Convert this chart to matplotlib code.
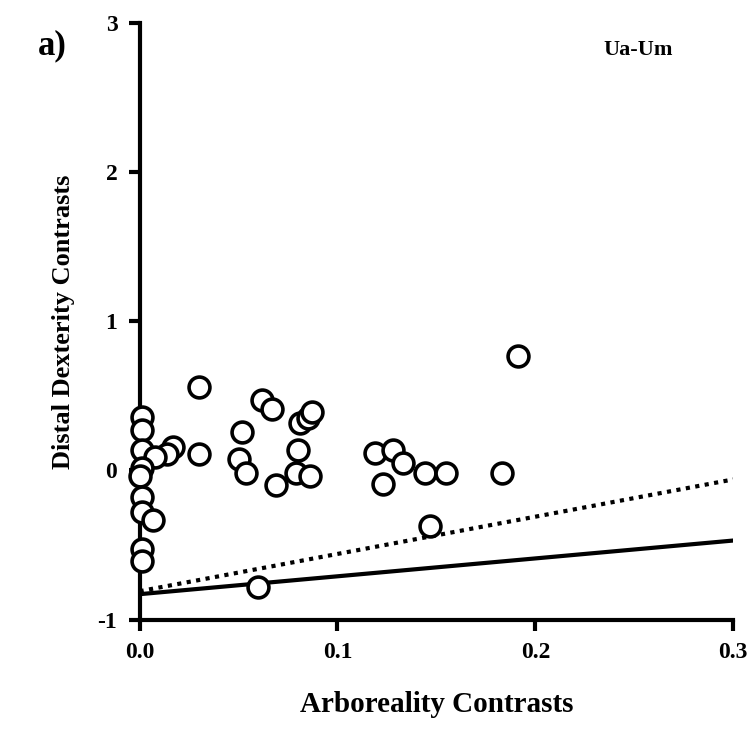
import matplotlib.pyplot as plt

# arboreality contrasts (x) and distal dexterity contrasts (y)
arb = [0.191, 0.030, 0.001, 0.001, 0.001, 0.017, 0.014, 0.030, 0.008,
       0.001, 0.000, 0.001, 0.001, 0.007, 0.001, 0.001, 0.060,
       0.052, 0.050, 0.054, 0.062, 0.067, 0.069, 0.081, 0.085,
       0.087, 0.080, 0.079, 0.086, 0.119, 0.128, 0.133, 0.123,
       0.144, 0.155, 0.183, 0.147]
dex = [0.77, 0.56, 0.36, 0.27, 0.14, 0.16, 0.11, 0.11, 0.09,
       0.02, -0.04, -0.18, -0.28, -0.33, -0.53, -0.61, -0.78,
       0.26, 0.08, -0.02, 0.47, 0.41, -0.10, 0.32, 0.35,
       0.39, 0.14, -0.02, -0.04, 0.12, 0.14, 0.05, -0.09,
       -0.02, -0.02, -0.02, -0.37]

# regression lines (endpoints at x = 0 and 0.3)
line_x = [0.0, 0.3]
solid_y = [-0.83, -0.47]
dotted_y = [-0.81, -0.06]

plt.rcParams['font.family'] = ['Liberation Serif', 'DejaVu Serif']
plt.rcParams['font.weight'] = 'bold'

fig = plt.figure(figsize=(7.52, 7.31), dpi=100)
ax = fig.add_axes([0.1856, 0.1525, 0.7894, 0.8155])

ax.plot(line_x, solid_y, color='black', lw=3, solid_capstyle='butt')
ax.plot(line_x, dotted_y, color='black', lw=3, linestyle=(0, (1, 1.3)))
ax.plot(arb, dex, 'o', ms=15, mfc='white', mec='black', mew=2.6,
        clip_on=False, zorder=3)

ax.set_xlim(0, 0.3)
ax.set_ylim(-1, 3)
ax.set_xticks([0.0, 0.1, 0.2, 0.3])
ax.set_xticklabels(['0.0', '0.1', '0.2', '0.3'])
ax.set_yticks([-1, 0, 1, 2, 3])
ax.set_yticklabels(['-1', '0', '1', '2', '3'])

for s in ['top', 'right']:
    ax.spines[s].set_visible(False)
for s in ['left', 'bottom']:
    ax.spines[s].set_linewidth(3)
ax.tick_params(width=3, length=8, labelsize=17, pad=8)

ax.set_xlabel('Arboreality Contrasts', fontsize=21, fontweight='bold',
              labelpad=20)
ax.set_ylabel('Distal Dexterity Contrasts', fontsize=19, fontweight='bold',
              labelpad=16)

ax.text(0.84, 0.955, 'Ua-Um', transform=ax.transAxes, fontsize=16,
        fontweight='bold', ha='center', va='center')
fig.text(0.07, 0.938, 'a)', fontsize=25, fontweight='bold',
         ha='center', va='center')

fig.savefig('out.png', dpi=100)
